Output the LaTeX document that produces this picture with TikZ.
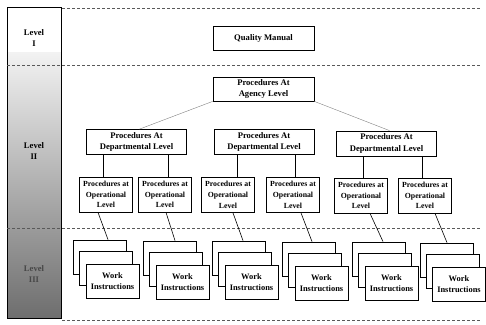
\documentclass[tikz,border=0pt]{standalone}
\usepackage{fontspec}
\setmainfont{Liberation Serif}

\begin{document}
\begin{tikzpicture}[x=1pt,y=-1pt]
\tikzset{
  docbox/.style={draw=black,line width=0.8pt,fill=white,align=center,inner sep=1pt,font=\bfseries\fontsize{8.6}{11.2}\selectfont},
  topbox/.style={docbox,minimum width=101pt,minimum height=24pt},
  deptbox/.style={docbox,minimum width=100pt,minimum height=25pt},
  opbox/.style={docbox,minimum width=53pt,minimum height=35pt,font=\bfseries\fontsize{7.8}{10.8}\selectfont},
  sheetbox/.style={docbox,minimum width=53pt,minimum height=34pt,font=\bfseries\fontsize{8.4}{11}\selectfont},
  levellabel/.style={align=center,font=\bfseries\fontsize{8.6}{10.4}\selectfont},
  tierline/.style={draw=black!65,line width=0.5pt,dash pattern=on 3pt off 2pt},
  treeedge/.style={draw=black,line width=0.6pt},
  thinedge/.style={draw=black!50,line width=0.4pt}
}
\useasboundingbox (0,0) rectangle (486,324);
% level column
\fill[white] (7,7) rectangle (61.5,52);
\shade[top color=black!5,bottom color=black!57] (7,52) rectangle (61.5,318);
\draw[line width=0.9pt] (7,7) rectangle (61.5,318);
\node[levellabel] (n_lvl1) at (34,38) {Level\\I};
\node[levellabel] (n_lvl2) at (34,151) {Level\\II};
\node[levellabel,text=black!72] (n_lvl3) at (34,274) {Level\\III};
% tier separators
\draw[tierline] (62,8) -- (481,8);
\draw[tierline] (7,65) -- (481,65);
\draw[tierline] (7,228) -- (481,228);
\draw[tierline] (62,320) -- (481,320);
% level I and II boxes
\node[topbox] (n_qm) at (263.5,38) {Quality Manual};
\node[topbox] (n_ag) at (263.5,89) {Procedures At\\Agency Level};
\node[deptbox] (n_d1) at (136.5,142) {Procedures At\\Departmental Level};
\node[deptbox] (n_d2) at (264,142) {Procedures At\\Departmental Level};
\node[deptbox] (n_d3) at (386.5,143.5) {Procedures At\\Departmental Level};
\node[opbox] (n_o1) at (106,194.5) {Procedures at\\Operational\\Level};
\node[opbox] (n_o2) at (165,194.5) {Procedures at\\Operational\\Level};
\node[opbox] (n_o3) at (228,195) {Procedures at\\Operational\\Level};
\node[opbox] (n_o4) at (293,195) {Procedures at\\Operational\\Level};
\node[opbox] (n_o5) at (361,195.5) {Procedures at\\Operational\\Level};
\node[opbox] (n_o6) at (425,195.5) {Procedures at\\Operational\\Level};
% level III sheet stacks
\node[sheetbox] (n_w1a) at (99.5,257) {};
\node[sheetbox] (n_w1b) at (106,268) {};
\node[sheetbox] (n_w1) at (112.5,281) {Work\\Instructions};
\node[sheetbox] (n_w2a) at (169.5,258) {};
\node[sheetbox] (n_w2b) at (176,269) {};
\node[sheetbox] (n_w2) at (182.5,282) {Work\\Instructions};
\node[sheetbox] (n_w3a) at (238.5,258) {};
\node[sheetbox] (n_w3b) at (245,269) {};
\node[sheetbox] (n_w3) at (251.5,282) {Work\\Instructions};
\node[sheetbox] (n_w4a) at (308.5,259) {};
\node[sheetbox] (n_w4b) at (315,270) {};
\node[sheetbox] (n_w4) at (321.5,283) {Work\\Instructions};
\node[sheetbox] (n_w5a) at (378.5,259) {};
\node[sheetbox] (n_w5b) at (385,270) {};
\node[sheetbox] (n_w5) at (391.5,283) {Work\\Instructions};
\node[sheetbox] (n_w6a) at (446.5,260) {};
\node[sheetbox] (n_w6b) at (453,271) {};
\node[sheetbox] (n_w6) at (459,284) {Work\\Instructions};
% connectors
\draw[thinedge] (n_ag.south west) -- ([xshift=3pt]n_d1.north);
\draw[thinedge] (n_ag.south east) -- ([xshift=3pt]n_d3.north);
\draw[treeedge] ([xshift=-3pt]n_o1.north) -- ([xshift=-3pt]n_o1.north |- n_d1.south);
\draw[treeedge] ([xshift=3pt]n_o2.north) -- ([xshift=3pt]n_o2.north |- n_d1.south);
\draw[treeedge] ([xshift=9pt]n_o3.north) -- ([xshift=9pt]n_o3.north |- n_d2.south);
\draw[treeedge] ([xshift=2pt]n_o4.north) -- ([xshift=2pt]n_o4.north |- n_d2.south);
\draw[treeedge] ([xshift=2pt]n_o5.north) -- ([xshift=2pt]n_o5.north |- n_d3.south);
\draw[treeedge] ([xshift=-3pt]n_o6.north) -- ([xshift=-3pt]n_o6.north |- n_d3.south);
\draw[treeedge] ([xshift=-8pt]n_o1.south) -- ([xshift=8.5pt]n_w1a.north);
\draw[treeedge] ([xshift=1pt]n_o2.south) -- ([xshift=5.5pt]n_w2a.north);
\draw[treeedge] ([xshift=5pt]n_o3.south) -- ([xshift=4.5pt]n_w3a.north);
\draw[treeedge] ([xshift=8pt]n_o4.south) -- ([xshift=3.5pt]n_w4a.north);
\draw[treeedge] ([xshift=9pt]n_o5.south) -- ([xshift=4.5pt]n_w5a.north);
\draw[treeedge] ([xshift=10pt]n_o6.south) -- ([xshift=0.5pt]n_w6a.north);
\end{tikzpicture}
\end{document}
